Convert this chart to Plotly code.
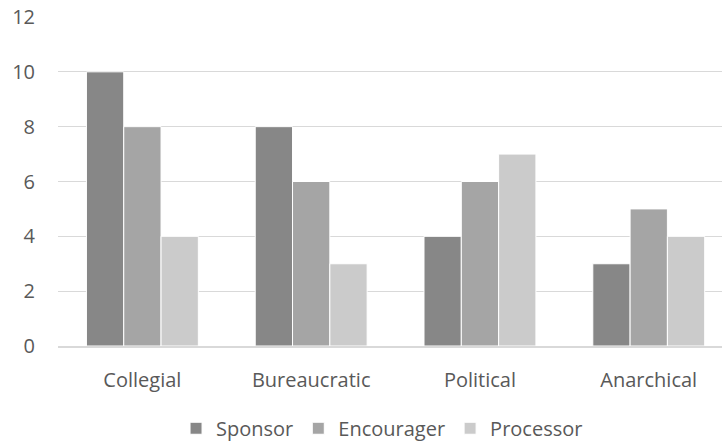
import plotly.graph_objects as go

categories = ["Collegial", "Bureaucratic", "Political", "Anarchical"]
sponsor = [10, 8, 4, 3]
encourager = [8, 6, 6, 5]
processor = [4, 3, 7, 4]

series = [
    ("Sponsor", sponsor, "#878787"),
    ("Encourager", encourager, "#a5a5a5"),
    ("Processor", processor, "#cbcbcb"),
]

fig = go.Figure()
for name, vals, color in series:
    fig.add_trace(go.Bar(
        x=categories, y=vals, name=name,
        marker=dict(color=color, line=dict(color="white", width=1)),
    ))

font_family = "Open Sans, sans-serif"
fig.update_layout(
    width=722, height=442,
    margin=dict(l=58, r=0, t=17, b=96, autoexpand=False),
    paper_bgcolor="white", plot_bgcolor="white",
    barmode="group", bargap=0.337, bargroupgap=0,
    font=dict(family=font_family, size=20, color="#595959"),
    legend=dict(orientation="h", x=0.488, xanchor="center", y=-0.25, yanchor="middle",
                font=dict(size=20, color="#595959"), itemwidth=30, traceorder="normal"),
    xaxis=dict(range=[-0.5, 3.434], showgrid=False, ticks="outside", ticklen=15,
               tickcolor="rgba(0,0,0,0)",
               showline=True, linecolor="#d9d9d9", linewidth=2, automargin=False),
    yaxis=dict(range=[0, 12], dtick=2, showgrid=True, gridcolor="#d9d9d9", gridwidth=1,
               zeroline=False, showline=False, ticks="outside", ticklen=18,
               tickcolor="rgba(0,0,0,0)", automargin=False),
)

fig.write_html("out.html")
